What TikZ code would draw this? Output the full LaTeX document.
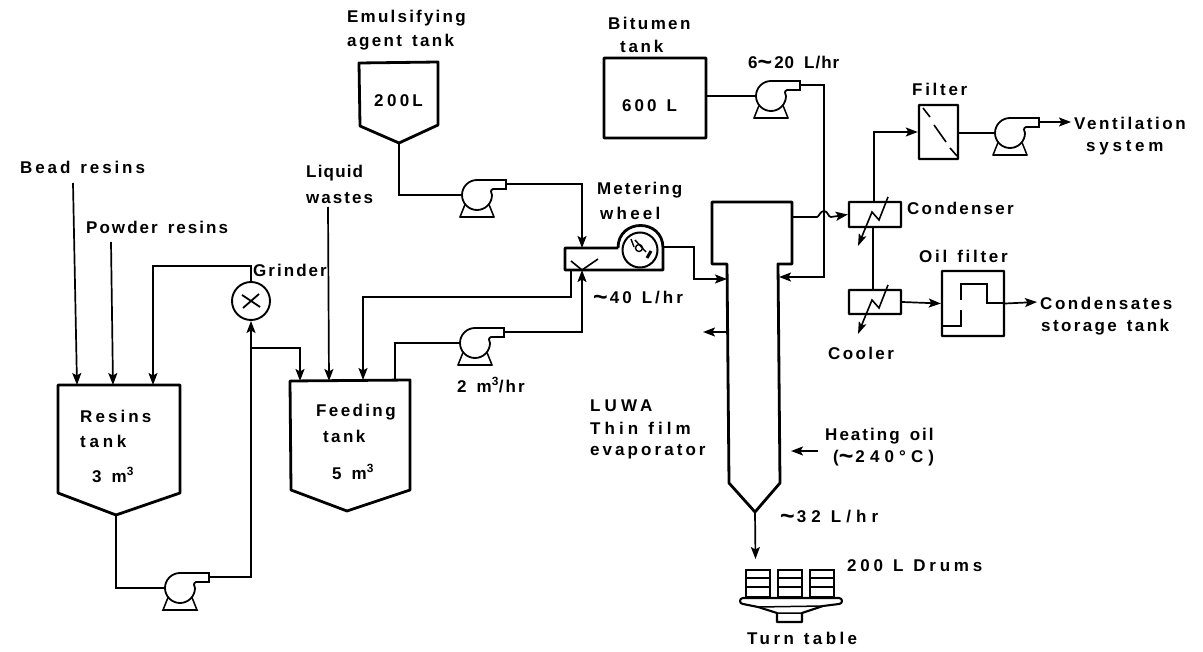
\documentclass[tikz,border=0pt]{standalone}
\usepackage{fontspec}
\setmainfont{Liberation Sans}
\usetikzlibrary{arrows.meta}
\newcommand\labfont{\fontsize{17}{19}\selectfont\bfseries}
\newcommand\wsp{\hspace{10pt}}
\newcommand\tld{\raisebox{-2pt}{\fontsize{25}{25}\selectfont\textasciitilde}\hspace{2pt}}
% name, left x, y, letter spacing, text
\newcommand\lbl[5]{\node[lab] (#1) at (#2,#3) {\addfontfeature{LetterSpace=#4}#5};}
\tikzset{
  lab/.style={anchor=west,inner sep=0pt,font=\labfont},
  pipe/.style={line width=1.7pt,line join=miter},
  feed/.style={pipe,-{Stealth[length=12pt,width=9pt,inset=2.5pt]}},
  tankline/.style={line width=2.8pt,line join=round},
  unitbox/.style={draw,line width=2.4pt,inner sep=0pt,rounded corners=0.5pt},
  pump/.pic={
    \draw[line width=1.5pt] (-12,9.5) -- (-17,22) -- (17,22) -- (12,9.5);
    \draw[line width=2.2pt] (-17,22) -- (17,22);
    \draw[line width=1.8pt,fill=white] (0,-15) -- (29,-15) -- (29,-6) -- (16,-6) .. controls (13,-5) and (14,-2) .. (15,0)
       .. controls (15,8.3) and (8.3,15) .. (0,15) .. controls (-8.3,15) and (-15,8.3) .. (-15,0) .. controls (-15,-8.3) and (-8.3,-15) .. (0,-15) -- cycle;
    \coordinate (-in) at (-15,0);
    \coordinate (-out) at (29,-11);
  },
  hx/.pic={
    \draw[line width=1.6pt,-{Stealth[length=12pt,width=8pt,inset=2.5pt]}] (39,-5) -- (30,18) -- (23,10) -- (9,44);
  },
  drum/.pic={
    \draw[line width=2pt] (0,0) rectangle (24,27);
    \draw[line width=2pt] (-1,8) -- (25,8) (-1,17) -- (25,17);
  }
}
\begin{document}
\begin{tikzpicture}[x=1pt,y=-1pt]
\useasboundingbox (0,0) rectangle (1203,652);
\fill[white] (0,0) rectangle (1203,652);

% tanks
\draw[tankline] (58,385) -- (180,385) -- (180,493) -- (116,515) -- (58,493) -- cycle;
\coordinate (rtIn1) at (77,385); \coordinate (rtIn2) at (113,385); \coordinate (rtIn3) at (153,385);
\coordinate (rtOut) at (116,515);
\draw[tankline] (290,381) -- (410,380) -- (410,490) -- (347,511) -- (291,490) -- cycle;
\coordinate (ftIn1) at (300,381); \coordinate (ftIn2) at (329,381); \coordinate (ftIn3) at (363,380); \coordinate (ftOut) at (395,380);
\draw[tankline] (359,63) -- (438,62) -- (438,125) -- (399,143) -- (360,126) -- cycle;
\coordinate (etOut) at (399,143);
\node[unitbox,line width=2.8pt,minimum width=102pt,minimum height=80pt] (bit) at (655,98) {};

% evaporator
\draw[tankline] (712,202) -- (792,202) -- (792,264) -- (778,264) -- (780,483) -- (755,512) -- (729,483) -- (727,264) -- (712,264) -- cycle;
\coordinate (evIn1) at (727,279); \coordinate (evIn2) at (779,277); \coordinate (evOutTop) at (792,217);
\coordinate (evBot) at (755,512); \coordinate (evSide) at (727,332);

% pumps
\pic (pe) at (477,195) {pump};
\pic (pb) at (771,96) {pump};
\pic (pf) at (475,343) {pump};
\pic (pr) at (180,588) {pump};
\pic (pv) at (1010,133) {pump};

% grinder
\node[draw,circle,line width=1.9pt,minimum size=38pt,inner sep=0pt] (grinder) at (251,301) {};
\draw[line width=1.8pt] (242,295) -- (260,307) (243,308) -- (259,294);

% metering box and wheel
\draw[tankline] (618,248) -- (565,248) -- (565,270) -- (663,270) -- (663,248) .. controls (663,218) and (618,218) .. (618,248);
\node[draw,circle,line width=2pt,minimum size=35pt,inner sep=0pt,fill=white] (wheel) at (640,250) {};
\draw[line width=1.6pt] (571,261) -- (582,270) -- (598,259);
\draw[line width=1.4pt] (631,239) -- (634,247) (635,240) -- (646,252);
\draw[line width=1.4pt] (639,248) circle[radius=3.5pt];
\draw[line width=3pt] (651,251) -- (647,258);
\coordinate (mTopIn) at (582,248); \coordinate (mBotIn) at (582,270); \coordinate (mBotOut) at (571,270); \coordinate (mOut) at (664,247);

% right hand boxes
\node[unitbox,minimum width=52pt,minimum height=25pt] (cond) at (875,214.5) {};
\node[unitbox,minimum width=52pt,minimum height=24pt] (cool) at (875,302) {};
\node[unitbox,minimum width=39pt,minimum height=54pt] (filt) at (938.5,132) {};
\node[unitbox,minimum width=62pt,minimum height=65pt] (oilf) at (973,303.5) {};
\pic at (849,202) {hx};
\pic at (849,290) {hx};
\draw[line width=1.6pt] (923,108) -- (930,117) (934,125) -- (946,142) (950,148) -- (957,156);
\draw[line width=1.8pt] (943,326) -- (961,326) -- (961,310) (961,300) -- (961,284) -- (987,284) -- (987,303) -- (1004,303);

% drums and table
\pic at (746,570) {drum};
\pic at (778,570) {drum};
\pic at (810,570) {drum};
\draw[line width=2.1pt,line join=round,fill=white] (743,598) -- (839,598) .. controls (843,598) and (843,604) .. (839,604) -- (823,606) -- (802,613) -- (802,622) -- (777,622) -- (777,613) -- (758,607) -- (743,604) .. controls (739,604) and (739,598) .. (743,598) -- cycle;
\draw[line width=1.5pt] (758,607) -- (823,606) (777,613) -- (802,613);

% free-end coordinates
\coordinate (sBead) at (73,183);
\coordinate (sPowder) at (111,242);
\coordinate (sLiquid) at (328,207);
\coordinate (gTop) at (248,266);
\coordinate (j1) at (251,348);
\coordinate (endVent) at (1071,122);
\coordinate (endCond) at (1037,302);
\coordinate (heatStart) at (818,451);
\coordinate (heatEnd) at (791,451);
\coordinate (sideEnd) at (703,332);
\coordinate (bottomEnd) at (755.5,559);

% connectors
\draw[feed] (sBead) -- (rtIn1);
\draw[feed] (sPowder) -- (rtIn2);
\draw[feed] (grinder.north) -- (grinder.north |- gTop) -- (rtIn3 |- gTop) -- (rtIn3);
\draw[pipe] (rtOut) |- (pr-in);
\draw[feed] (pr-out) -| (grinder.south);
\draw[feed] (j1) -| (ftIn1);
\draw[feed] (sLiquid) -- (ftIn2);
\draw[pipe] (etOut) |- (pe-in);
\draw[feed] (pe-out) -| (mTopIn);
\draw[feed] (mBotOut) |- (ftIn3 |- 0,297) -- (ftIn3);
\draw[pipe] (ftOut) |- (pf-in);
\draw[feed] (pf-out) -| (mBotIn);
\draw[feed] (mOut) -| (694,279) -- (evIn1);
\draw[pipe] (bit.east |- pb-in) -- (pb-in);
\draw[feed] (pb-out) -| (824,277) -- (evIn2);
\draw[feed] (evOutTop) -- (817,217) .. controls (819,217) and (820,211) .. (824,211) .. controls (828,211) and (828,217) .. (831,217) -- (cond.west);
\draw[feed] (874,202) |- (filt.west);
\draw[pipe] (filt.east |- pv-in) -- (pv-in);
\draw[feed] (pv-out) -- (endVent);
\draw[pipe] (873,227) -- (873,290);
\draw[feed] (cool.east) -- (oilf.west);
\draw[feed] (oilf.east) -- (endCond);
\draw[feed] (evSide) -- (sideEnd);
\draw[feed] (heatStart) -- (heatEnd);
\draw[feed] (evBot) -- (bottomEnd);

% labels
\lbl{l1}{20}{167}{17}{Bead\wsp resins}
\lbl{l2}{86}{227}{12}{Powder\wsp resins}
\lbl{l3}{306}{173}{7}{Liquid}
\lbl{l4}{306}{198}{12}{wastes}
\lbl{l5}{347}{18}{13}{Emulsifying}
\lbl{l6}{347}{42}{14}{agent\wsp tank}
\lbl{l7}{374}{101}{20}{200\hspace{3pt}L}
\lbl{l8}{608}{23}{14}{Bitumen}
\lbl{l9}{620}{46}{16}{tank}
\lbl{l10}{622}{106}{18}{600\wsp L}
\lbl{l11}{748}{63}{6}{6\tld 20\wsp L/hr}
\lbl{l12}{597}{190}{12}{Metering}
\lbl{l13}{600}{213}{19}{wheel}
\lbl{l14}{253}{270}{12}{Grinder}
\lbl{l15}{593}{298}{18}{\tld 40\wsp L/hr}
\lbl{l16}{457}{385}{12}{2\wsp m\textsuperscript{3}/hr}
\lbl{l17}{316}{412}{14}{Feeding}
\lbl{l18}{323}{436}{14}{tank}
\lbl{l19}{332}{472}{10}{5\wsp m\textsuperscript{3}}
\lbl{l20}{80}{416}{18}{Resins}
\lbl{l21}{80}{441}{22}{tank}
\lbl{l22}{92}{475}{20}{3\wsp m\textsuperscript{3}}
\lbl{l23}{590}{406}{24}{LUWA}
\lbl{l24}{590}{428}{24}{Thin\wsp film}
\lbl{l25}{590}{452}{18}{evaporator}
\lbl{l26}{825}{436}{12}{Heating\wsp oil}
\lbl{l27}{833}{458}{30}{(\tld 240°C)}
\lbl{l28}{780}{517}{30}{\tld 32\wsp L/hr}
\lbl{l29}{847}{566}{22}{200\wsp L\wsp Drums}
\lbl{l30}{747}{638}{20}{Turn\wsp table}
\lbl{l31}{912}{89}{16}{Filter}
\lbl{l32}{1074}{123}{15}{Ventilation}
\lbl{l33}{1086}{148}{22}{system}
\lbl{l34}{907}{208}{13}{Condenser}
\lbl{l35}{919}{256}{16}{Oil\wsp filter}
\lbl{l36}{1040}{303}{15}{Condensates}
\lbl{l37}{1041}{327}{14}{storage\wsp tank}
\lbl{l38}{828}{353}{14}{Cooler}
\end{tikzpicture}
\end{document}
